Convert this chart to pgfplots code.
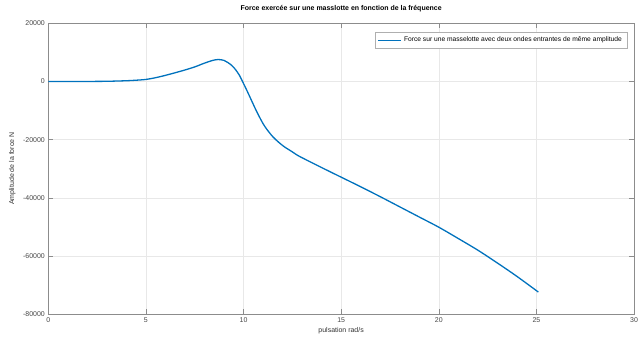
\documentclass[border=0pt]{standalone}
\usepackage{pgfplots}
\pgfplotsset{compat=1.18}
\usepackage{fontspec}
\setmainfont{Liberation Sans}
\definecolor{mblue}{RGB}{0,114,189}
\definecolor{axgray}{RGB}{140,140,140}
\definecolor{labgray}{RGB}{70,70,70}
\begin{document}
\begin{tikzpicture}
\useasboundingbox (-48.3bp,-24.7bp) rectangle (591bp,314.3bp);
\begin{axis}[
  at={(0,0)}, anchor=south west,
  scale only axis,
  width=586bp, height=291bp,
  xmin=0, xmax=30, ymin=-80000, ymax=20000,
  xtick={0,5,10,15,20,25,30},
  ytick={-80000,-60000,-40000,-20000,0,20000},
  scaled y ticks=false,
  /pgf/number format/assume math mode=true,
  yticklabel={\pgfmathprintnumber[fixed,1000 sep={}]{\tick}},
  tick label style={font=\fontsize{7}{8}\selectfont, color=labgray},
  tick align=inside,
  major tick length=5bp,
  tick style={axgray, line width=0.5bp},
  axis line style={axgray, line width=0.8bp},
  grid=major,
  major grid style={gray!18, line width=0.5bp},
  every axis title shift=0pt,
  title={\textbf{Force exercée sur une masslotte en fonction de la fréquence}},
  title style={at={(axis description cs:0.5,1)}, anchor=center, yshift=14.5bp, font=\fontsize{7}{8.5}\selectfont},
  xlabel={pulsation rad/s},
  xlabel style={at={(axis description cs:0.5,0)}, anchor=center, yshift=-17bp, font=\fontsize{7}{8}\selectfont, color=labgray!70!black},
  ylabel={Amplitude de la force N},
  ylabel style={at={(axis description cs:-0.0614,0.5)}, anchor=center, font=\fontsize{7}{8}\selectfont, color=labgray!70!black},
  legend style={at={(axis description cs:1,1)}, anchor=north east, xshift=-7bp, yshift=-9bp,
    font=\fontsize{6.7}{7.5}\selectfont, draw=axgray!70, line width=0.5bp,
    inner xsep=3bp, inner ysep=2.5bp, row sep=0pt},
  legend cell align=left,
  legend image post style={line width=1.2bp},
  legend image code/.code={\draw[#1] (0bp,0bp) -- (23bp,0bp);},
]
\addplot[mblue, line width=1.3bp, smooth, tension=0.5] coordinates {
(0,0) (1,0) (2,10) (3,60) (4,250) (4.5,430) (5,700) (5.5,1300) (6,2100) (6.5,3000)
(7,3950) (7.5,5000) (8,6300) (8.4,7200) (8.7,7550) (9.0,7250) (9.2,6500)
(9.4,5500) (9.6,4000) (9.8,2000) (10.0,-700) (10.2,-3500) (10.4,-6400)
(10.6,-9300) (10.8,-12000) (11.0,-14500) (11.2,-16500) (11.5,-19000)
(11.8,-20900) (12.1,-22500) (12.5,-24200) (12.85,-25700) (14.0,-29600)
(15.0,-32900) (16.0,-36200) (17.0,-39600) (18.0,-43100) (19.0,-46600)
(20.0,-50100) (21.0,-54000) (22.0,-58000) (23.0,-62400) (24.0,-67000)
(25.1,-72400)
};
\addlegendentry{Force sur une masselotte avec deux ondes entrantes de même amplitude}
\end{axis}
\end{tikzpicture}
\end{document}
